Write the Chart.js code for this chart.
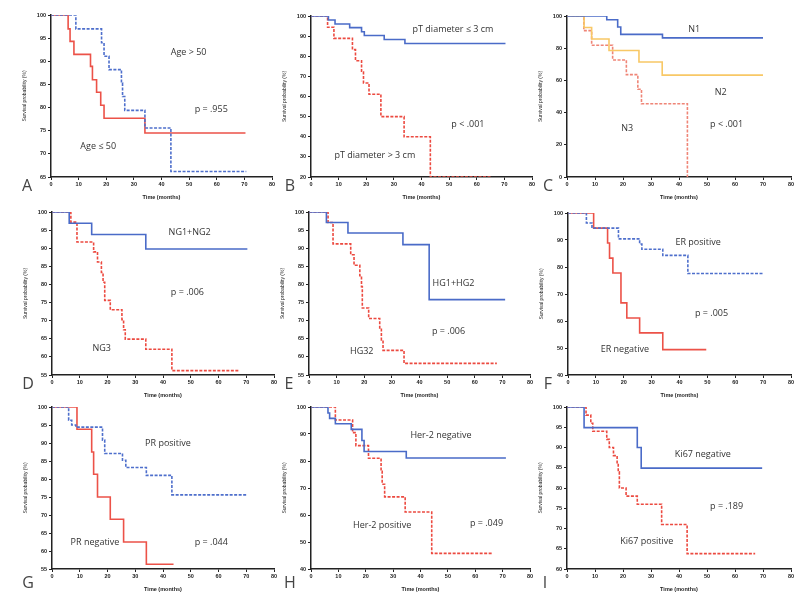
<!DOCTYPE html>
<html>
<head>
<meta charset="utf-8">
<script src="https://cdn.jsdelivr.net/npm/chart.js@4.4.1/dist/chart.umd.min.js"></script>
<style>
  html, body { margin: 0; padding: 0; background: #fff; }
  #fig { position: relative; width: 803px; height: 593px; overflow: hidden; }
  #fig canvas { position: absolute; }
  .tag { position: absolute; font: 16px "Open Sans", sans-serif; color: #444; transform: translate(-50%, -50%); }
</style>
</head>
<body>
<div id="fig"></div>
<script>
// Kaplan-Meier steps: time (months) and survival (%) after each event

// A - age
const ageOldTime  = [0, 9, 18.3, 19.2, 21, 25.5, 25.9, 26.7, 34, 43.4, 70.7];
const ageOldSurv  = [100, 97, 94, 91.1, 88.2, 85.3, 82.4, 79.4, 75.6, 66.2, 66.2];
const ageYoungTime = [0, 6.2, 6.9, 8.3, 14.3, 15, 16.5, 18, 19.2, 34, 70.4];
const ageYoungSurv = [100, 97, 94.3, 91.5, 88.9, 86, 83.3, 80.5, 77.7, 74.5, 74.5];

// B - tumour diameter
const ptSmallTime = [0, 6.3, 8.7, 14, 18.3, 19.3, 26.5, 34, 70.4];
const ptSmallSurv = [100, 98, 96, 94.2, 92.2, 90.3, 88.3, 86.3, 86.3];
const ptLargeTime = [0, 6, 8.3, 15, 16.1, 18.3, 19, 21, 25.3, 33.7, 43.2, 65];
const ptLargeSurv = [100, 94.4, 88.9, 83.3, 77.8, 72.2, 66.7, 61.1, 50, 40, 20, 20];

// C - nodal stage
const n1Time = [0, 14.2, 18.1, 19.2, 34.1, 70];
const n1Surv = [100, 97.7, 93.2, 88.6, 86.4, 86.4];
const n2Time = [0, 6.1, 8.8, 15, 25.7, 34, 70];
const n2Surv = [100, 92.9, 85.7, 78.6, 71.4, 63.3, 63.3];
const n3Time = [0, 6, 8.8, 16.3, 21.2, 25.3, 26.6, 43];
const n3Surv = [100, 90.9, 81.8, 72.7, 63.6, 54.5, 45.5, 0];

// D - nuclear grade
const ngLowTime = [0, 6.2, 14.3, 33.8, 70.4];
const ngLowSurv = [100, 96.9, 93.8, 89.8, 89.8];
const ng3Time = [0, 6.8, 9, 15, 16.4, 17.8, 18.4, 19, 21, 25.2, 25.8, 26.4, 33.8, 43.2, 67.7];
const ng3Surv = [100, 97.2, 91.7, 89, 86.2, 83.3, 80.6, 75.6, 73, 70.3, 67.5, 64.9, 62.1, 56.2, 56.2];

// E - histological grade
const hgLowTime = [0, 6.3, 14.1, 34, 43.5, 71];
const hgLowSurv = [100, 97.1, 94.2, 91, 75.8, 75.8];
const hg3Time = [0, 6.9, 8.7, 15.1, 16.3, 18.4, 19, 19.3, 21.6, 25.6, 26.2, 26.8, 34.4, 68];
const hg3Surv = [100, 97.1, 91.2, 88.2, 85.3, 82.4, 79.4, 73.5, 70.6, 67.6, 64.7, 61.8, 58.2, 58.2];

// F - ER
const erPosTime = [0, 6.6, 8.6, 18.1, 25.7, 26.5, 34, 43, 70.3];
const erPosSurv = [100, 96.3, 94.4, 90.4, 88.5, 86.6, 84.3, 77.6, 77.6];
const erNegTime = [0, 9.2, 14.2, 14.9, 16.1, 19, 21.1, 25.7, 34, 49.6];
const erNegSurv = [100, 94.4, 88.9, 83.3, 77.8, 66.7, 61.1, 55.6, 49.4, 49.4];

// G - PR
const prPosTime = [0, 6, 7.1, 8.6, 18.2, 19, 25.4, 26.6, 34, 43.2, 70.4];
const prPosSurv = [100, 96.3, 95, 94.4, 90.8, 87.1, 85.2, 83.2, 81, 75.6, 75.6];
const prNegTime = [0, 9, 14.3, 15, 16.4, 21, 25.8, 34, 43.8];
const prNegSurv = [100, 93.8, 87.5, 81.3, 75, 68.8, 62.5, 56.3, 56.3];

// H - Her-2
const herNegTime = [0, 6.2, 6.8, 8.9, 14.7, 18.6, 19.4, 34.8, 71.2];
const herNegSurv = [100, 97.8, 95.8, 93.8, 91.7, 87.6, 83.5, 81.1, 81.1];
const herPosTime = [0, 8.9, 15.2, 16.4, 21, 25.6, 26, 26.9, 34.4, 44.1, 66];
const herPosSurv = [100, 95.2, 90.5, 85.7, 81, 76.2, 71.4, 66.7, 61.1, 45.8, 45.8];

// I - Ki67
const kiNegTime = [0, 6.1, 25.1, 26.5, 69.7];
const kiNegSurv = [100, 94.9, 90, 84.9, 84.9];
const kiPosTime = [0, 6.8, 8.5, 9.2, 14.2, 15.1, 16.6, 17.9, 18.3, 18.7, 21.1, 25.1, 33.8, 42.9, 67.2];
const kiPosSurv = [100, 98, 96, 94, 92, 90, 88, 86, 84, 80, 78, 76, 71, 63.8, 63.8];

const xTicksMax = 80;

// line styles
const styles = {
    blue:     { color: '#4a6bc8', dash: [] },
    blueDash: { color: '#4e6fcc', dash: [3, 1.5] },
    red:      { color: '#ec5248', dash: [] },
    redDash:  { color: '#ec4a40', dash: [3, 1.5] },
    yellow:   { color: '#f8c866', dash: [] },
    pinkDash: { color: '#ef8577', dash: [3, 1.5] }
};

const panels = [
    { tag: 'A', L: 51, T: 15, W: 221, H: 162, yMin: 65, yStep: 5, tagDx: -24, tagDy: 8,
      curves: [[ageOldTime, ageOldSurv, 'blueDash'], [ageYoungTime, ageYoungSurv, 'red']],
      notes: [['Age > 50', 49.8, 91.9], ['p = .955', 58, 79.5], ['Age \u2264 50', 17.1, 71.6]] },
    { tag: 'B', L: 311, T: 16, W: 221, H: 161, yMin: 20, yStep: 10, tagDx: -21, tagDy: 8,
      curves: [[ptSmallTime, ptSmallSurv, 'blue'], [ptLargeTime, ptLargeSurv, 'redDash']],
      notes: [['pT diameter \u2264 3 cm', 51.4, 93.3], ['p < .001', 56.8, 46.2], ['pT diameter > 3 cm', 23.1, 30.5]] },
    { tag: 'C', L: 567, T: 16, W: 224, H: 161, yMin: 0, yStep: 20, tagDx: -19, tagDy: 8,
      curves: [[n1Time, n1Surv, 'blue'], [n2Time, n2Surv, 'yellow'], [n3Time, n3Surv, 'pinkDash']],
      notes: [['N1', 45.4, 91.6], ['N2', 54.9, 52.8], ['N3', 21.5, 30.4], ['p < .001', 57, 32.8]] },
    { tag: 'D', L: 52, T: 212, W: 222, H: 163, yMin: 55, yStep: 5, tagDx: -24, tagDy: 8,
      curves: [[ngLowTime, ngLowSurv, 'blue'], [ng3Time, ng3Surv, 'redDash']],
      notes: [['NG1+NG2', 49.6, 94.3], ['p = .006', 48.8, 77.7], ['NG3', 17.9, 62.2]] },
    { tag: 'E', L: 309, T: 212, W: 221, H: 163, yMin: 55, yStep: 5, tagDx: -20, tagDy: 8,
      curves: [[hgLowTime, hgLowSurv, 'blue'], [hg3Time, hg3Surv, 'redDash']],
      notes: [['HG1+HG2', 52.3, 80.3], ['p = .006', 50.5, 67], ['HG32', 19.1, 61.6]] },
    { tag: 'F', L: 568, T: 213, W: 223, H: 162, yMin: 40, yStep: 10, tagDx: -20, tagDy: 8,
      curves: [[erPosTime, erPosSurv, 'blueDash'], [erNegTime, erNegSurv, 'red']],
      notes: [['ER positive', 46.7, 89.1], ['p = .005', 51.5, 62.9], ['ER negative', 20.4, 49.6]] },
    { tag: 'G', L: 52, T: 407, W: 222, H: 162, yMin: 55, yStep: 5, tagDx: -24, tagDy: 13,
      curves: [[prPosTime, prPosSurv, 'blueDash'], [prNegTime, prNegSurv, 'red']],
      notes: [['PR positive', 41.8, 89.9], ['PR negative', 15.5, 62.5], ['p = .044', 57.4, 62.5]] },
    { tag: 'H', L: 311, T: 407, W: 219, H: 162, yMin: 40, yStep: 10, tagDx: -21, tagDy: 13,
      curves: [[herNegTime, herNegSurv, 'blue'], [herPosTime, herPosSurv, 'redDash']],
      notes: [['Her-2 negative', 47.5, 89.3], ['Her-2 positive', 26, 56.3], ['p = .049', 64.1, 56.7]] },
    { tag: 'I', L: 567, T: 407, W: 224, H: 162, yMin: 60, yStep: 5, tagDx: -22, tagDy: 13,
      curves: [[kiNegTime, kiNegSurv, 'blue'], [kiPosTime, kiPosSurv, 'redDash']],
      notes: [['Ki67 negative', 48.5, 88.4], ['p = .189', 57, 75.4], ['Ki67 positive', 28.5, 66.7]] }
];

// draws the group labels / p values at data coordinates
const notesPlugin = {
    id: 'notes',
    afterDatasetsDraw(chart, args, opts) {
        const ctx = chart.ctx;
        ctx.save();
        ctx.font = '9px "Open Sans", sans-serif';
        ctx.fillStyle = '#333';
        ctx.textAlign = 'center';
        ctx.textBaseline = 'middle';
        (opts.items || []).forEach(([text, x, y]) => {
            ctx.fillText(text, chart.scales.x.getPixelForValue(x), chart.scales.y.getPixelForValue(y));
        });
        ctx.restore();
    }
};

const AXIS_W = 36, AXIS_H = 24, PAD_T = 6, PAD_R = 10;
const tickFont = { family: 'Arial, sans-serif', size: 5.5, weight: 'bold' };
const fig = document.getElementById('fig');

panels.forEach(p => {
    const canvas = document.createElement('canvas');
    canvas.width = AXIS_W + p.W + PAD_R;
    canvas.height = PAD_T + p.H + AXIS_H;
    canvas.style.left = (p.L - AXIS_W) + 'px';
    canvas.style.top = (p.T - PAD_T) + 'px';
    fig.appendChild(canvas);

    const tag = document.createElement('div');
    tag.className = 'tag';
    tag.textContent = p.tag;
    tag.style.left = (p.L + p.tagDx) + 'px';
    tag.style.top = (p.T + p.H + p.tagDy) + 'px';
    fig.appendChild(tag);

    new Chart(canvas.getContext('2d'), {
        type: 'line',
        data: {
            datasets: p.curves.map(([times, surv, style]) => ({
                data: times.map((t, i) => ({ x: t, y: surv[i] })),
                borderColor: styles[style].color,
                borderDash: styles[style].dash,
                borderWidth: 1.6,
                stepped: 'before',
                pointRadius: 0,
                fill: false
            }))
        },
        options: {
            responsive: false,
            animation: false,
            layout: { padding: { top: PAD_T, right: PAD_R, left: 0, bottom: 0 } },
            plugins: {
                legend: { display: false },
                tooltip: { enabled: false },
                notes: { items: p.notes }
            },
            scales: {
                x: {
                    type: 'linear',
                    min: 0,
                    max: xTicksMax,
                    afterFit: s => { s.height = AXIS_H; },
                    border: { color: '#222', width: 1.5 },
                    grid: { drawOnChartArea: false, drawTicks: true, tickLength: 3, color: '#222' },
                    ticks: { stepSize: 10, autoSkip: false, maxRotation: 0, padding: 1, color: '#222', font: tickFont },
                    title: { display: true, text: 'Time (months)', color: '#222', padding: 0,
                             font: { family: 'Arial, sans-serif', size: 5.5, weight: 'bold' } }
                },
                y: {
                    min: p.yMin,
                    max: 100,
                    afterFit: s => { s.width = AXIS_W; },
                    border: { color: '#222', width: 1.5 },
                    grid: { drawOnChartArea: false, drawTicks: true, tickLength: 3, color: '#222' },
                    ticks: { stepSize: p.yStep, autoSkip: false, padding: 2, color: '#222', font: tickFont },
                    title: { display: true, text: 'Survival probability (%)', color: '#222',
                             padding: { top: 7, bottom: 2 },
                             font: { family: 'Arial, sans-serif', size: 5 } }
                }
            }
        },
        plugins: [notesPlugin]
    });
});
</script>
</body>
</html>
